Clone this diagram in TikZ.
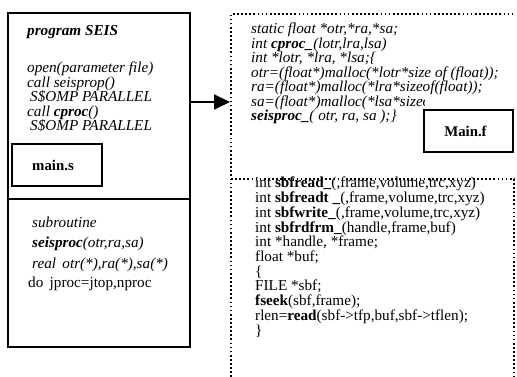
\documentclass[tikz,border=0pt]{standalone}
\usepackage{fontspec}
\setmainfont{Liberation Serif}
\usetikzlibrary{arrows.meta}
\begin{document}
\begin{tikzpicture}[x=1pt,y=-1pt,
  txt/.style={anchor=base west, inner sep=0pt, font=\fontsize{15.2}{15}\selectfont},
  itxt/.style={anchor=base west, inner sep=0pt, font=\fontsize{15.2}{15}\selectfont\itshape},
  solidbox/.style={draw, line width=1.3pt, inner sep=0pt},
  dotline/.style={line width=1.7pt, dash pattern=on 1.7pt off 2.4pt},
  tag/.style={solidbox, line width=1.6pt, fill=white, font=\fontsize{14.8}{15}\selectfont\bfseries}]
\useasboundingbox (0,0) rectangle (517,377);
% left column
\node[solidbox, minimum width=182pt, minimum height=334pt] (leftcol) at (99,180) {};
\coordinate (dv) at (0,199);
\draw[line width=1.3pt] (leftcol.west |- dv) -- (leftcol.east |- dv);
% right dotted frames
\coordinate (rtl) at (231,14);
\coordinate (rtr) at (515,14);
\coordinate (rbl) at (231,377);
\coordinate (lbtl) at (231,179);
\coordinate (lbtr) at (514,179);
\coordinate (lbbr) at (514,377);
\draw[dotline] (rbl) -- (rtl) -- (rtr);
\draw[dotline] (lbtl) -- (lbtr) -- (lbbr);
% arrow
\coordinate (arrowend) at (230,102);
\draw[line width=2pt, -{Triangle[length=16pt,width=15pt]}] (leftcol.east |- arrowend) -- (arrowend);
% upper left text
\node[itxt, font=\fontsize{15.2}{15}\selectfont\itshape\bfseries] (p1) at (27,36) {program SEIS};
\node[itxt] (p2) at (27,73) {open(parameter file)};
\node[itxt] (p3) at (27,87.5) {call seisprop()};
\node[itxt] (p4) at (30,102) {S\$OMP PARALLEL};
\node[itxt] (p5) at (27,116.5) {call \textbf{cproc}()};
\node[itxt] (p6) at (30,131) {S\$OMP PARALLEL};
\node[tag, minimum width=90pt, minimum height=42pt] (mains) at (57,165) {\hspace*{-8pt}main.s};
% lower left text
\node[itxt] (s1) at (32,227) {subroutine};
\node[itxt] (s2) at (32,247) {\textbf{seisproc}(otr,ra,sa)};
\node[itxt] (s3) at (32,268) {real\, otr(*),ra(*),sa(*)};
\node[txt] (s4) at (28,287) {do\, jproc=jtop,nproc};
% upper right text
\node[itxt] (c1) at (251,34) {static float *otr,*ra,*sa;};
\node[itxt] (c2) at (251,48.5) {int \textbf{cproc\_}(lotr,lra,lsa)};
\node[itxt] (c3) at (251,63) {int *lotr, *lra, *lsa;\{};
\node[itxt] (c4) at (251,77.5) {otr=(float*)malloc(*lotr*size of (float));};
\node[itxt] (c5) at (251,92) {ra=(float*)malloc(*lra*sizeof(float));};
\begin{scope}
\clip (240,90) rectangle (424,112);
\node[itxt] (c6) at (251,106.5) {sa=(float*)malloc(*lsa*sizeof(float));};
\end{scope}
\node[itxt] (c7) at (251,121) {\textbf{seisproc\_}( otr, ra, sa );\}};
\node[tag, minimum width=89pt, minimum height=42pt] (mainf) at (468.5,131) {\hspace*{-6pt}Main.f};
% lower right text
\node[txt] (f1) at (255,188) {int \textbf{sbfread\_}(,frame,volume,trc,xyz)};
\node[txt] (f2) at (255,202.7) {int \textbf{sbfreadt \_}(,frame,volume,trc,xyz)};
\node[txt] (f3) at (255,217.4) {int \textbf{sbfwrite\_}(,frame,volume,trc,xyz)};
\node[txt] (f4) at (255,232.1) {int \textbf{sbfrdfrm\_}(handle,frame,buf)};
\node[txt] (f5) at (255,246.8) {int *handle, *frame;};
\node[txt] (f6) at (255,261.5) {float *buf;};
\node[txt] (f7) at (255,276.2) {\{};
\node[txt] (f8) at (255,290.9) {FILE *sbf;};
\node[txt] (f9) at (255,305.6) {\textbf{fseek}(sbf,frame);};
\node[txt] (f10) at (255,320.3) {rlen=\textbf{read}(sbf->tfp,buf,sbf->tflen);};
\node[txt] (f11) at (255,335) {\}};
\end{tikzpicture}
\end{document}
